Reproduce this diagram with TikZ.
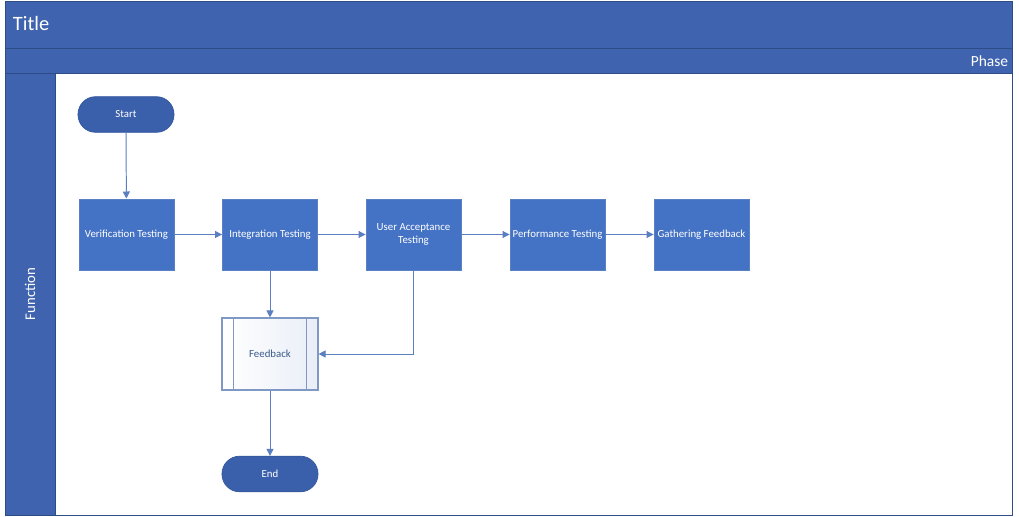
\documentclass[tikz,border=0pt]{standalone}
\usepackage{fontspec}
\setmainfont{Carlito}
\usetikzlibrary{arrows.meta}
\definecolor{lane}{HTML}{3F63AE}
\definecolor{laneline}{HTML}{2E4C86}
\definecolor{proc}{HTML}{4472C4}
\definecolor{procline}{HTML}{5A80C6}
\definecolor{term}{HTML}{3A60AC}
\definecolor{flow}{HTML}{5B7FC0}
\definecolor{subtext}{HTML}{3B5A8C}
\definecolor{subline}{HTML}{7F98C4}
\definecolor{subfill}{HTML}{E9EEF7}
\tikzset{
  band/.style={fill=lane, draw=laneline, line width=0.6pt},
  proc/.style={rectangle, fill=proc, draw=procline, line width=0.5pt,
    text=white, font=\fontsize{7.7}{9}\selectfont, align=center,
    minimum width=2.38cm, minimum height=1.78cm, inner sep=1pt},
  term/.style={rectangle, rounded corners=0.44cm, fill=term, draw=term!90!black, line width=0.5pt,
    text=white, font=\fontsize{7.7}{9}\selectfont,
    minimum width=2.4cm, minimum height=0.89cm},
  sub/.style={rectangle, left color=white, right color=subfill, draw=subline,
    line width=0.8pt, text=subtext, font=\fontsize{7.7}{9}\selectfont,
    minimum width=2.4cm, minimum height=1.8cm},
  flow/.style={draw=flow, line width=0.7pt, -{Triangle[length=5pt,width=5pt]}}
}

\begin{document}
\begin{tikzpicture}[x=0.025cm, y=-0.025cm]
  \useasboundingbox (0,0) rectangle (1019,517);

  % pool: title, phase, function lane
  \fill[white] (0,0) rectangle (1019,517);
  \draw[band] (5,1) rectangle (1012,48);
  \draw[band] (5,48) rectangle (1012,73);
  \draw[band] (5,73) rectangle (55,515);
  \draw[laneline, line width=0.6pt, fill=white] (55,73) rectangle (1012,515);
  \node[text=white, font=\fontsize{14.5}{16}\selectfont, anchor=west] (title) at (8,24) {Title};
  \node[text=white, font=\fontsize{11}{13}\selectfont, anchor=east] (phase) at (1013,61) {Phase};
  \node[text=white, font=\fontsize{10.5}{12}\selectfont, rotate=90] (func) at (30,294) {Function};

  % shapes
  \node[term] (start) at (126,114.5) {Start};
  \node[proc] (verif) at (126.5,234.5) {Verification Testing};
  \node[proc] (integ) at (270,234.5) {Integration Testing};
  \node[proc] (uat) at (413.5,234.5) {User Acceptance\\Testing};
  \node[proc] (perf) at (557.5,234.5) {Performance Testing};
  \node[proc] (gather) at (701.5,234.5) {Gathering Feedback};
  \node[sub] (feed) at (270,354) {Feedback};
  \draw[subline, line width=0.8pt] ([xshift=0.3cm]feed.north west) -- ([xshift=0.3cm]feed.south west);
  \draw[subline, line width=0.8pt] ([xshift=-0.3cm]feed.north east) -- ([xshift=-0.3cm]feed.south east);
  \node[term] (end) at (270,474) {End};

  % connectors
  \draw[flow] (start) -- (verif);
  \draw[flow] (verif) -- (integ);
  \draw[flow] (integ) -- (uat);
  \draw[flow] (uat) -- (perf);
  \draw[flow] (perf) -- (gather);
  \draw[flow] (integ) -- (feed);
  \draw[flow] (uat.south) |- (feed.east);
  \draw[flow] (feed) -- (end);
\end{tikzpicture}
\end{document}
